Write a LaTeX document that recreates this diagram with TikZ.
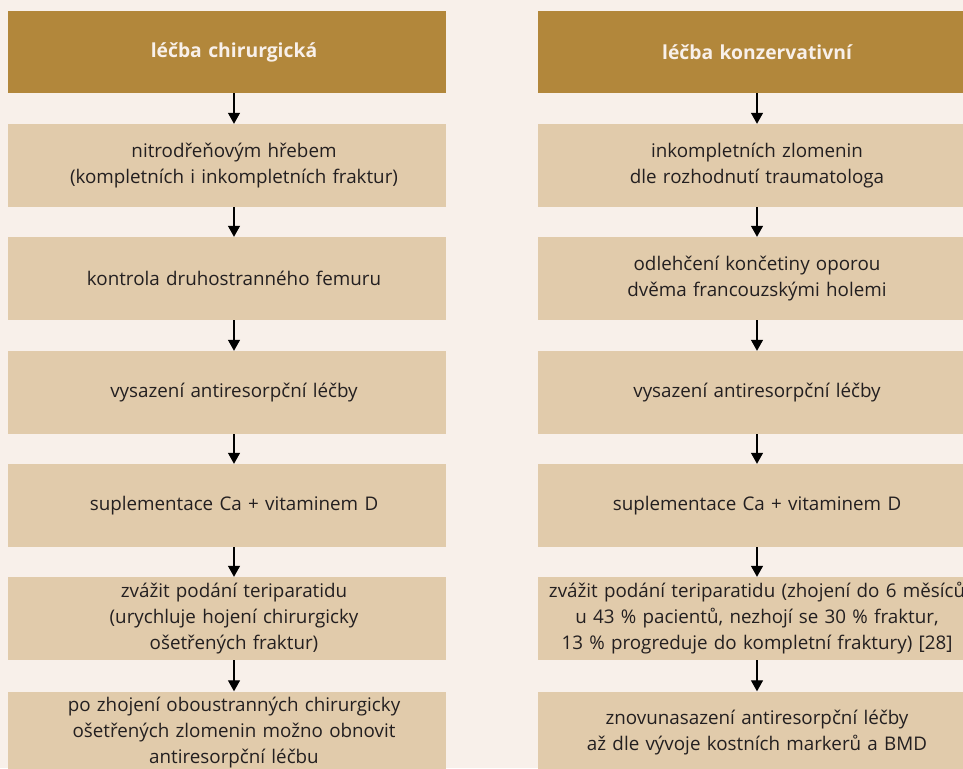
\documentclass[tikz,border=0pt]{standalone}
\usepackage{fontspec}
\setmainfont{Open Sans}
\usetikzlibrary{positioning,arrows.meta}
\definecolor{bgcolor}{RGB}{248,240,234}
\definecolor{headcolor}{RGB}{178,135,59}
\definecolor{boxcolor}{RGB}{225,203,171}
\definecolor{inkcolor}{RGB}{35,31,32}

\begin{document}
\begin{tikzpicture}[x=1pt, y=-1pt,
  every node/.style={font=\fontsize{18.8}{26}\selectfont},
  head/.style={rectangle, fill=headcolor, minimum height=82pt, align=center, text=bgcolor, font=\fontsize{19.3}{26}\selectfont\bfseries},
  stepbox/.style={rectangle, fill=boxcolor, minimum height=83pt, align=center, text=inkcolor},
  leftcol/.style={text width=424pt, inner xsep=7pt, execute at begin node={\advance\leftskip by 14pt}},
  rightcol/.style={text width=438pt, inner xsep=0pt},
  flow/.style={-{Triangle[width=12pt,length=11pt]}, line width=1.3pt}
]

% Page and background
\useasboundingbox (0,0) rectangle (963,768);
\clip (0,0) rectangle (963,768);
\fill[bgcolor] (0,0) rectangle (963,768);

% Left column: surgical treatment
\node[head, leftcol] (lhead) at (227,52) {léčba chirurgická};
\node[stepbox, leftcol] (l1) at (227,165.5) {nitrodřeňovým hřebem\\(kompletních i inkompletních fraktur)};
\node[stepbox, leftcol] (l2) at (227,278.5) {kontrola druhostranného femuru};
\node[stepbox, leftcol] (l3) at (227,392.5) {vysazení antiresorpční léčby};
\node[stepbox, leftcol] (l4) at (227,505.5) {suplementace Ca + vitaminem D};
\node[stepbox, leftcol] (l5) at (227,618.5) {zvážit podání teriparatidu\\(urychluje hojení chirurgicky\\ošetřených fraktur)};
\node[stepbox, leftcol] (l6) at (227,733) {po zhojení oboustranných chirurgicky\\ošetřených zlomenin možno obnovit\\antiresorpční léčbu};

% Right column: conservative treatment
\node[head, rightcol] (rhead) at (757,52) {léčba konzervativní};
\node[stepbox, rightcol] (r1) at (757,165.5) {inkompletních zlomenin\\dle rozhodnutí traumatologa};
\node[stepbox, rightcol] (r2) at (757,278.5) {odlehčení končetiny oporou\\dvěma francouzskými holemi};
\node[stepbox, rightcol] (r3) at (757,392.5) {vysazení antiresorpční léčby};
\node[stepbox, rightcol] (r4) at (757,505.5) {suplementace Ca + vitaminem D};
\node[stepbox, rightcol] (r5) at (757,618.5) {zvážit podání teriparatidu (zhojení do 6 měsíců\\u 43~\% pacientů, nezhojí se 30~\% fraktur,\\13~\% progreduje do kompletní fraktury) [28]};
\node[stepbox, rightcol] (r6) at (757,733) {znovunasazení antiresorpční léčby\\až dle vývoje kostních markerů a BMD};

% Left connections
\draw[flow] ([xshift=7pt]lhead.south) -- ([xshift=7pt]l1.north);
\draw[flow] ([xshift=7pt]l1.south) -- ([xshift=7pt]l2.north);
\draw[flow] ([xshift=7pt]l2.south) -- ([xshift=7pt]l3.north);
\draw[flow] ([xshift=7pt]l3.south) -- ([xshift=7pt]l4.north);
\draw[flow] ([xshift=7pt]l4.south) -- ([xshift=7pt]l5.north);
\draw[flow] ([xshift=7pt]l5.south) -- ([xshift=7pt]l6.north);

% Right connections
\draw[flow] (rhead) -- (r1);
\draw[flow] (r1) -- (r2);
\draw[flow] (r2) -- (r3);
\draw[flow] (r3) -- (r4);
\draw[flow] (r4) -- (r5);
\draw[flow] (r5) -- (r6);

\end{tikzpicture}
\end{document}
